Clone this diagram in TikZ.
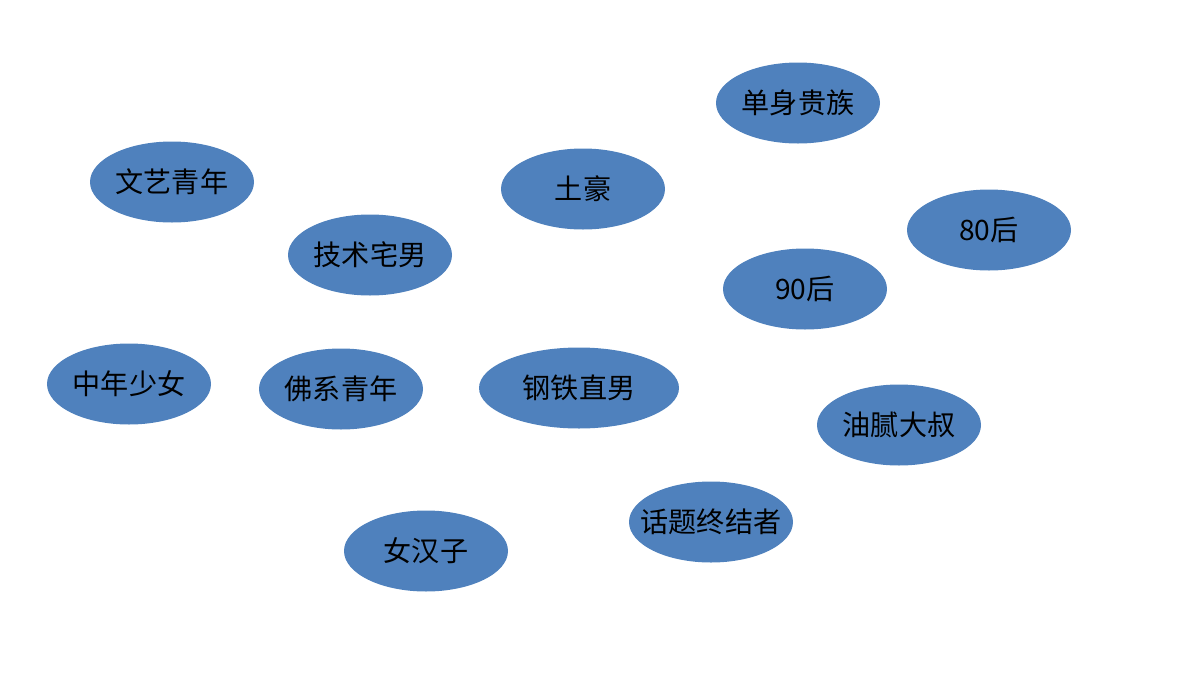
\documentclass[tikz,border=0pt]{standalone}
\usepackage{fontspec}
\newfontfamily\cjk{Noto Sans CJK SC}
\usetikzlibrary{shapes.geometric}
\definecolor{tagblue}{HTML}{4F81BD}

\begin{document}
\begin{tikzpicture}[x=1cm,y=-1cm]
    \tikzstyle{tag node}=[ellipse,fill=tagblue,inner sep=0,minimum width=1.64cm,minimum height=0.81cm,font=\cjk\fontsize{8}{10}\selectfont]
    \tikzstyle{wide tag node}=[tag node,minimum width=2.0cm]
    \tikzstyle{long tag node}=[tag node,inner xsep=-0.13cm]
    \useasboundingbox (0,0) rectangle (12,6.75);

    \node(danshen)[tag node] at (7.98,1.03){单身贵族};
    \node(wenyi)[tag node] at (1.72,1.82){文艺青年};
    \node(tuhao)[tag node] at (5.83,1.89){土豪};
    \node(bashi)[tag node] at (9.89,2.30){80后};
    \node(jishu)[tag node] at (3.70,2.55){技术宅男};
    \node(jiushi)[tag node] at (8.05,2.89){90后};
    \node(zhongnian)[tag node] at (1.29,3.84){中年少女};
    \node(foxi)[tag node] at (3.41,3.89){佛系青年};
    \node(gangtie)[wide tag node] at (5.79,3.88){钢铁直男};
    \node(youni)[tag node] at (8.99,4.25){油腻大叔};
    \node(huati)[long tag node] at (7.11,5.22){话题终结者};
    \node(nvhanzi)[tag node] at (4.26,5.51){女汉子};
\end{tikzpicture}
\end{document}
